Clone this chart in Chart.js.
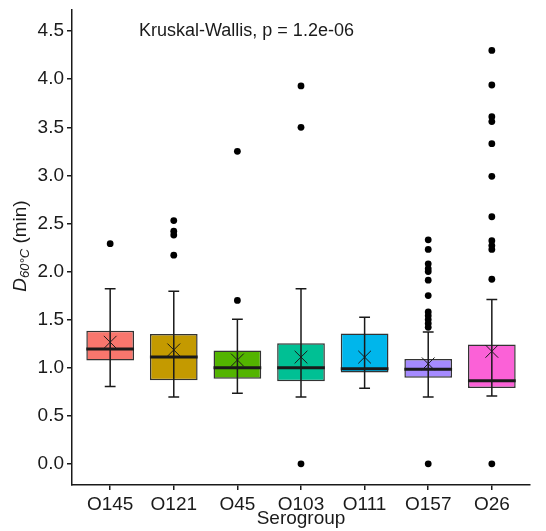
<!DOCTYPE html>
<html>
<head>
<meta charset="utf-8">
<script src="https://cdn.jsdelivr.net/npm/chart.js@4"></script>
<style>
  html, body { margin: 0; padding: 0; background: #fff; }
  #wrap { width: 546px; height: 531px; }
</style>
</head>
<body>
<div id="wrap"><canvas id="chart"></canvas></div>
<script>
// D60°C per serogroup, box plot
const categories = ['O145', 'O121', 'O45', 'O103', 'O111', 'O157', 'O26'];
const q1 = [1.075, 0.87, 0.885, 0.86, 0.95, 0.895, 0.79];
const medians = [1.195, 1.11, 1.0, 1.0, 0.99, 0.985, 0.865];
const q3 = [1.385, 1.35, 1.18, 1.255, 1.355, 1.09, 1.24];
const whiskerLow = [0.805, 0.695, 0.735, 0.695, 0.785, 0.695, 0.705];
const whiskerHigh = [1.82, 1.795, 1.505, 1.82, 1.525, 1.37, 1.71];
const means = [1.265, 1.185, 1.08, 1.11, 1.11, 1.04, 1.17];
const outliers = [
    [2.29],
    [2.53, 2.42, 2.38, 2.17],
    [3.25, 1.70],
    [3.93, 3.50, 0],
    [],
    [2.33, 2.23, 2.08, 2.03, 2.00, 1.91, 1.75, 1.58, 1.54, 1.50, 1.46, 1.42, 0],
    [4.30, 3.94, 3.61, 3.56, 3.33, 2.99, 2.57, 2.32, 2.27, 2.23, 1.92, 0]
];
const yTicks = [0, 0.5, 1, 1.5, 2, 2.5, 3, 3.5, 4, 4.5];
const colors = ['#F8766D', '#C49A00', '#53B400', '#00C094', '#00B6EB', '#A58AFF', '#FB61D7'];

const FONT = "'Liberation Sans', Arial, sans-serif";
const INK = '#1a1a1a';

// whiskers, medians, annotation and axis titles
const boxExtras = {
    id: 'boxExtras',
    afterDatasetsDraw(chart) {
        const { ctx } = chart;
        const xs = chart.scales.x, ys = chart.scales.y;
        ctx.save();
        categories.forEach((c, i) => {
            const x = xs.getPixelForValue(i);
            const cap = xs.getPixelForValue(i + 0.085) - x;
            const half = xs.getPixelForValue(i + 0.375) - x;
            const lo = ys.getPixelForValue(whiskerLow[i]);
            const hi = ys.getPixelForValue(whiskerHigh[i]);
            ctx.strokeStyle = INK;
            ctx.lineWidth = 1.5;
            ctx.beginPath();
            ctx.moveTo(x, lo); ctx.lineTo(x, hi);
            ctx.moveTo(x - cap, lo); ctx.lineTo(x + cap, lo);
            ctx.moveTo(x - cap, hi); ctx.lineTo(x + cap, hi);
            ctx.stroke();
            const m = ys.getPixelForValue(medians[i]);
            ctx.lineWidth = 3;
            ctx.beginPath();
            ctx.moveTo(x - half, m); ctx.lineTo(x + half, m);
            ctx.stroke();
        });
        ctx.restore();
    },
    afterDraw(chart) {
        const { ctx } = chart;
        ctx.save();
        ctx.fillStyle = INK;
        ctx.textBaseline = 'middle';
        ctx.textAlign = 'left';
        ctx.font = '18px ' + FONT;
        ctx.fillText('Kruskal-Wallis, p = 1.2e-06', 139, 31);

        ctx.textAlign = 'center';
        ctx.textBaseline = 'alphabetic';
        ctx.font = '19px ' + FONT;
        ctx.fillText('Serogroup', chart.scales.x.getPixelForValue(3), 524);

        // y title: D italic with subscript 60°C
        ctx.translate(26, 246);
        ctx.rotate(-Math.PI / 2);
        ctx.textAlign = 'left';
        const big = 'italic 19px ' + FONT, small = 'italic 13px ' + FONT, reg = '19px ' + FONT;
        ctx.font = big; const w1 = ctx.measureText('D').width;
        ctx.font = small; const w2 = ctx.measureText('60°C').width;
        ctx.font = reg; const w3 = ctx.measureText(' (min)').width;
        let p = -(w1 + w2 + w3) / 2;
        ctx.font = big; ctx.fillText('D', p, 0); p += w1;
        ctx.font = small; ctx.fillText('60°C', p, 3); p += w2;
        ctx.font = reg; ctx.fillText(' (min)', p, 0);
        ctx.restore();
    }
};

const outlierPoints = [];
outliers.forEach((vals, i) => vals.forEach(v => outlierPoints.push({ x: i, y: v })));

const ctx = document.getElementById('chart').getContext('2d');
const chart = new Chart(ctx, {
    type: 'bar',
    data: {
        datasets: [{
            type: 'bar',
            label: 'box',
            data: categories.map((c, i) => ({ x: i, y: [q1[i], q3[i]] })),
            backgroundColor: colors,
            borderColor: '#333',
            borderWidth: 1.5,
            borderSkipped: false,
            barPercentage: 0.75,
            categoryPercentage: 1,
            order: 3
        }, {
            type: 'scatter',
            label: 'mean',
            data: categories.map((c, i) => ({ x: i, y: means[i] })),
            pointStyle: 'crossRot',
            pointRadius: 9,
            borderColor: INK,
            borderWidth: 1,
            order: 1
        }, {
            type: 'scatter',
            label: 'outliers',
            data: outlierPoints,
            pointRadius: 3.4,
            backgroundColor: '#000',
            borderColor: '#000',
            borderWidth: 0,
            order: 2
        }]
    },
    options: {
        responsive: true,
        maintainAspectRatio: false,
        animation: false,
        layout: { padding: { top: 8, right: 16, left: 0, bottom: 0 } },
        plugins: {
            legend: { display: false },
            tooltip: { enabled: false }
        },
        scales: {
            x: {
                type: 'linear',
                offset: false,
                min: -0.6,
                max: 6.6,
                afterBuildTicks: s => { s.ticks = categories.map((c, i) => ({ value: i })); },
                afterFit: s => { s.height = 46; s.paddingLeft = 0; s.paddingRight = 0; },
                ticks: {
                    callback: v => categories[v],
                    color: INK,
                    font: { family: FONT, size: 19 },
                    padding: 3,
                    maxRotation: 0,
                    autoSkip: false
                },
                grid: { offset: false, drawOnChartArea: false, drawTicks: true, tickLength: 5, color: INK, lineWidth: 1.5 },
                border: { display: true, color: INK, width: 1.5 }
            },
            y: {
                type: 'linear',
                min: -0.22,
                max: 4.72,
                afterBuildTicks: s => { s.ticks = yTicks.map(v => ({ value: v })); },
                afterFit: s => { s.width = 72; s.paddingTop = 0; s.paddingBottom = 0; },
                ticks: {
                    callback: v => v.toFixed(1),
                    color: INK,
                    font: { family: FONT, size: 19 },
                    padding: 3
                },
                grid: { drawOnChartArea: false, drawTicks: true, tickLength: 5, color: INK, lineWidth: 1.5 },
                border: { display: true, color: INK, width: 1.5 }
            }
        }
    },
    plugins: [boxExtras]
});
</script>
</body>
</html>
